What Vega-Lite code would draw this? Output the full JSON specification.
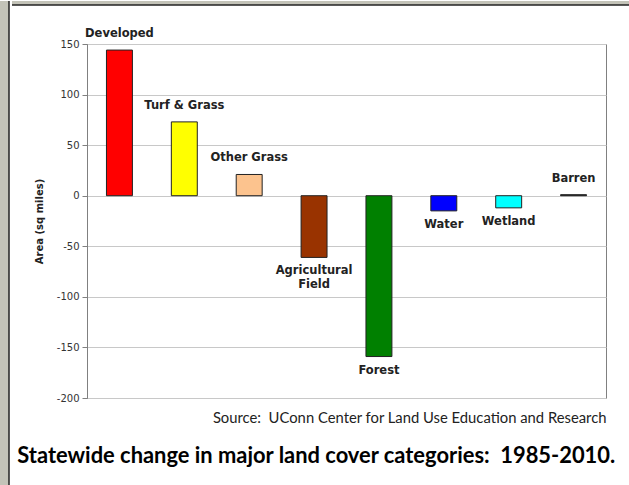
{
  "$schema": "https://vega.github.io/schema/vega-lite/v6.json",
  "background": "white",
  "padding": 0,
  "autosize": {"type": "pad"},
  "config": {"view": {"stroke": null}},
  "spacing": 0,
  "hconcat": [
    {
      "width": 9,
      "height": 485,
      "data": {"values": [{}]},
      "mark": {"type": "rule", "color": "#222", "strokeWidth": 1.5},
      "encoding": {"x": {"value": "width"}},
      "view": {"fill": "#c3c3b8", "stroke": null}
    },
    {
      "spacing": 21,
      "vconcat": [
        {
          "width": 620,
          "height": 4,
          "data": {"values": [{}]},
          "mark": {"type": "rule", "color": "#222", "strokeWidth": 1.5},
          "encoding": {"y": {"value": "height"}},
          "view": {"fill": "#c3c3b8", "stroke": null}
        },
        {
          "spacing": 0,
          "hconcat": [
            {
              "width": 2,
              "height": 1,
              "data": {"values": [{}]},
              "mark": {"type": "point", "opacity": 0},
              "encoding": {},
              "view": {"stroke": null, "fill": null}
            },
            {
              "width": 519,
              "height": 354,
              "view": {"stroke": "#808080", "strokeWidth": 1},
              "data": {
                "values": [
                  {"category": "Developed", "label": "Developed", "value": 144},
                  {"category": "Turf & Grass", "label": "Turf & Grass", "value": 73},
                  {"category": "Other Grass", "label": "Other Grass", "value": 21},
                  {"category": "Agricultural Field", "label": "Agricultural\nField", "value": -61},
                  {"category": "Forest", "label": "Forest", "value": -159},
                  {"category": "Water", "label": "Water", "value": -15},
                  {"category": "Wetland", "label": "Wetland", "value": -12},
                  {"category": "Barren", "label": "Barren", "value": 1}
                ]
              },
              "title": {
                "text": "Statewide change in major land cover categories:\u00a0\u00a01985-2010.",
                "orient": "bottom",
                "anchor": "start",
                "frame": "bounds",
                "font": "Lato",
                "fontSize": 21.9,
                "fontWeight": "bold",
                "color": "#000000",
                "offset": 21,
                "dx": -17
              },
              "encoding": {
                "x": {
                  "field": "category",
                  "type": "nominal",
                  "sort": null,
                  "scale": {"paddingInner": 0.6, "paddingOuter": 0.3},
                  "axis": {
                    "labels": false,
                    "ticks": false,
                    "domain": false,
                    "title": "Source:\u00a0\u00a0UConn Center for Land Use Education and Research",
                    "titleAnchor": "end",
                    "titleFont": "Lato",
                    "titleFontSize": 14.8,
                    "titleFontWeight": "normal",
                    "titleColor": "#222",
                    "titlePadding": 12
                  }
                },
                "y": {
                  "field": "value",
                  "type": "quantitative",
                  "scale": {"domain": [-200, 150], "nice": false},
                  "axis": {
                    "values": [-200, -150, -100, -50, 0, 50, 100, 150],
                    "labelExpr": "datum.value < 0 ? '-' + abs(datum.value) : '' + datum.value",
                    "grid": true,
                    "gridColor": "#c8c8c8",
                    "domainColor": "#808080",
                    "tickColor": "#808080",
                    "tickSize": 5,
                    "labelFont": "DejaVu Sans",
                    "labelFontSize": 10,
                    "labelColor": "#333333",
                    "labelPadding": 3,
                    "title": "Area (sq miles)",
                    "titleFont": "DejaVu Sans",
                    "titleFontSize": 10,
                    "titleFontWeight": "bold",
                    "titleColor": "#222222",
                    "titlePadding": 12
                  }
                }
              },
              "layer": [
                {
                  "mark": {"type": "bar", "stroke": "#222222", "strokeWidth": 1},
                  "encoding": {
                    "color": {
                      "field": "category",
                      "type": "nominal",
                      "scale": {
                        "domain": ["Developed", "Turf & Grass", "Other Grass", "Agricultural Field", "Forest", "Water", "Wetland", "Barren"],
                        "range": ["#ff0000", "#ffff00", "#fcc38e", "#993300", "#008000", "#0000ff", "#00ffff", "#000000"]
                      },
                      "legend": null
                    }
                  }
                },
                {
                  "transform": [{"filter": "datum.value >= 0"}],
                  "mark": {"type": "text", "baseline": "bottom", "dy": -11, "font": "DejaVu Sans", "fontSize": 11.5, "fontWeight": "bold", "color": "#222222"},
                  "encoding": {"text": {"field": "label"}}
                },
                {
                  "transform": [{"filter": "datum.value < 0"}],
                  "mark": {"type": "text", "baseline": "top", "dy": 8, "lineBreak": "\n", "font": "DejaVu Sans", "fontSize": 11.5, "fontWeight": "bold", "color": "#222222"},
                  "encoding": {"text": {"field": "label"}}
                }
              ]
            }
          ]
        }
      ]
    }
  ]
}
